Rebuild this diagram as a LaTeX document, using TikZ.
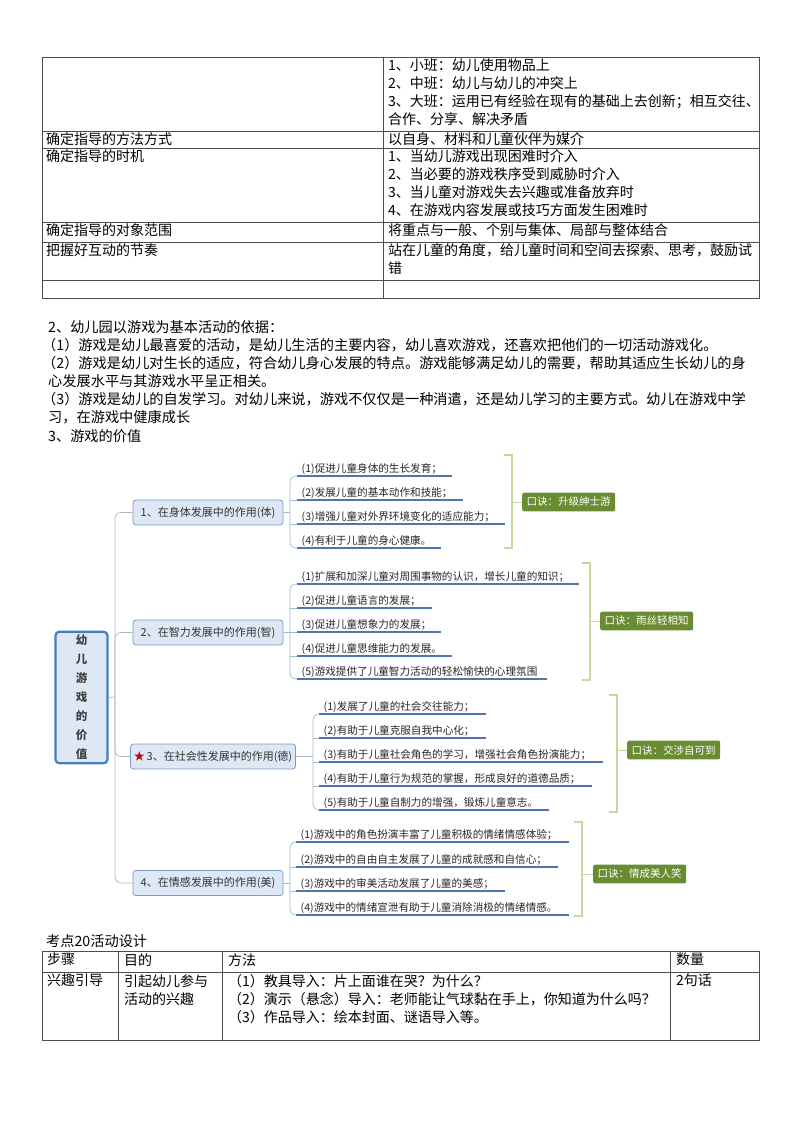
\documentclass[tikz,border=0pt]{standalone}
\usepackage{fontspec}
\setmainfont{Noto Sans CJK SC}
\newfontfamily\cjk{Noto Sans CJK SC}
\definecolor{ulc}{RGB}{79,118,170}
\definecolor{bfill}{RGB}{222,232,245}
\definecolor{bdraw}{RGB}{120,155,200}
\definecolor{rootc}{RGB}{70,125,190}
\definecolor{brkc}{RGB}{200,215,160}
\definecolor{mnc}{RGB}{105,140,50}
\definecolor{connc}{RGB}{170,185,200}
\begin{document}
\begin{tikzpicture}[x=1pt,y=-1pt,
  tline/.style={draw=black!70,line width=0.6pt},
  ttext/.style={anchor=north west,inner sep=0pt,font=\fontsize{14}{18}\selectfont,align=left},
  ptext/.style={anchor=west,inner sep=0pt,font=\fontsize{14.2}{16}\selectfont},
  branch/.style={draw=bdraw,fill=bfill,rounded corners=3pt,line width=0.8pt,minimum width=150pt,minimum height=25pt,font=\fontsize{11}{12}\selectfont,text=black!80},
  leaf/.style={anchor=south west,inner sep=1.5pt,font=\fontsize{10.6}{12}\selectfont,text=black!85},
  uline/.style={draw=ulc,line width=1.6pt},
  conn/.style={draw=connc,line width=0.7pt,rounded corners=6pt},
  brk/.style={draw=brkc,line width=2.2pt},
  mnem/.style={fill=mnc,text=white,rounded corners=2pt,font=\fontsize{10.5}{12}\selectfont\itshape,inner sep=4.5pt}]
\useasboundingbox (0,0) rectangle (800,1130);
% top table
\draw[tline] (42,57) rectangle (759,298);
\foreach \y in {131,148,222,242,280} \draw[tline] (42,\y) -- (759,\y);
\draw[tline] (383,57) -- (383,298);
\node[ttext] (t1) at (388,59) {1、小班：幼儿使用物品上\\2、中班：幼儿与幼儿的冲突上\\3、大班：运用已有经验在现有的基础上去创新；相互交往、\\合作、分享、解决矛盾};
\node[ttext] (t2a) at (46,132) {确定指导的方法方式};
\node[ttext] (t2b) at (388,132) {以自身、材料和儿童伙伴为媒介};
\node[ttext] (t3a) at (46,149) {确定指导的时机};
\node[ttext] (t3b) at (388,149) {1、当幼儿游戏出现困难时介入\\2、当必要的游戏秩序受到威胁时介入\\3、当儿童对游戏失去兴趣或准备放弃时\\4、在游戏内容发展或技巧方面发生困难时};
\node[ttext] (t4a) at (46,223) {确定指导的对象范围};
\node[ttext] (t4b) at (388,223) {将重点与一般、个别与集体、局部与整体结合};
\node[ttext] (t5a) at (46,243) {把握好互动的节奏};
\node[ttext] (t5b) at (388,243) {站在儿童的角度，给儿童时间和空间去探索、思考，鼓励试\\错};
% paragraphs
\node[ptext] (p1) at (48,327) {2、幼儿园以游戏为基本活动的依据：};
\node[ptext] (p2) at (42,345) {（1）游戏是幼儿最喜爱的活动，是幼儿生活的主要内容，幼儿喜欢游戏，还喜欢把他们的一切活动游戏化。};
\node[ptext] (p3) at (42,363) {（2）游戏是幼儿对生长的适应，符合幼儿身心发展的特点。游戏能够满足幼儿的需要，帮助其适应生长幼儿的身};
\node[ptext] (p4) at (48,381) {心发展水平与其游戏水平呈正相关。};
\node[ptext] (p5) at (42,399) {（3）游戏是幼儿的自发学习。对幼儿来说，游戏不仅仅是一种消遣，还是幼儿学习的主要方式。幼儿在游戏中学};
\node[ptext] (p6) at (48,417) {习，在游戏中健康成长};
\node[ptext] (p7) at (48,436) {3、游戏的价值};
% mind map
\node[draw=rootc,fill=bfill,line width=2.2pt,rounded corners=4pt,minimum width=52pt,minimum height=128pt,align=center,font=\fontsize{11.5}{19}\selectfont\bfseries,text=black!75] (root) at (81.5,697.5) {幼\\儿\\游\\戏\\的\\价\\值};
\node[branch] (b1) at (208,512.5) {1、在身体发展中的作用(体)};
\node[branch] (b2) at (208,632.5) {2、在智力发展中的作用(智)};
\node[branch,minimum width=160pt] (b3) at (213,756.5) {\textcolor{red!80!black}{\symbol{"2605}}\,3、在社会性发展中的作用(德)};
\node[branch] (b4) at (208,883) {4、在情感发展中的作用(美)};
\coordinate (rj) at (115,697);
\draw[conn] (root.east) -- (rj);
\draw[conn] (b1.west) -| (rj) |- (b4.west);
\draw[conn] (rj) |- (b2.west);
\draw[conn] (rj) |- (b3.west);
% leaves: branch 1
\foreach \t/\y/\e [count=\i] in {(1)促进儿童身体的生长发育；/476/452,(2)发展儿童的基本动作和技能；/500/463,(3)增强儿童对外界环境变化的适应能力；/524/505,(4)有利于儿童的身心健康。/548/441}{
  \node[leaf] (l1\i) at (300,\y) {\t};
  \draw[uline] (297,\y) -- (\e,\y);}
\draw[conn] (b1.east) -- (290,512.5);
\draw[conn] (297,476) -| (290,548) -- (297,548);
\draw[conn] (290,500) -- (297,500); \draw[conn] (290,524) -- (297,524);
\draw[brk] (504,455) -- (512,455) -- (512,548) -- (504,548);
\node[mnem,anchor=west] (m1) at (522,502) {口诀：升级绅士游};
\draw[brk,line width=1pt] (512,502) -- (m1.west);
% branch 2
\foreach \t/\y/\e [count=\i] in {(1)扩展和加深儿童对周围事物的认识，增长儿童的知识；/584/579,(2)促进儿童语言的发展；/608/432,(3)促进儿童想象力的发展；/632/441,(4)促进儿童思维能力的发展。/656/452,(5)游戏提供了儿童智力活动的轻松愉快的心理氛围/679/547}{
  \node[leaf] (l2\i) at (300,\y) {\t};
  \draw[uline] (297,\y) -- (\e,\y);}
\draw[conn] (b2.east) -- (290,632.5);
\draw[conn] (297,584) -| (290,679) -- (297,679);
\foreach \y in {608,632,656} \draw[conn] (290,\y) -- (297,\y);
\draw[brk] (582,563) -- (590,563) -- (590,680) -- (582,680);
\node[mnem,anchor=west] (m2) at (600,621) {口诀：雨丝轻相知};
\draw[brk,line width=1pt] (590,621) -- (m2.west);
% branch 3
\foreach \t/\y/\e [count=\i] in {(1)发展了儿童的社会交往能力；/714/486,(2)有助于儿童克服自我中心化；/738/486,(3)有助于儿童社会角色的学习，增强社会角色扮演能力；/762/603,(4)有助于儿童行为规范的掌握，形成良好的道德品质；/786/592,(5)有助于儿童自制力的增强，锻炼儿童意志。/810/549}{
  \node[leaf] (l3\i) at (322,\y) {\t};
  \draw[uline] (319,\y) -- (\e,\y);}
\draw[conn] (b3.east) -- (313,756.5);
\draw[conn] (319,714) -| (313,810) -- (319,810);
\foreach \y in {738,762,786} \draw[conn] (313,\y) -- (319,\y);
\draw[brk] (609,695) -- (617,695) -- (617,812) -- (609,812);
\node[mnem,anchor=west] (m3) at (627,750) {口诀：交涉自可到};
\draw[brk,line width=1pt] (617,750) -- (m3.west);
% branch 4
\foreach \t/\y/\e [count=\i] in {(1)游戏中的角色扮演丰富了儿童积极的情绪情感体验；/842/569,(2)游戏中的自由自主发展了儿童的成就感和自信心；/867/558,(3)游戏中的审美活动发展了儿童的美感；/891/505,(4)游戏中的情绪宣泄有助于儿童消除消极的情绪情感。/915/569}{
  \node[leaf] (l4\i) at (299,\y) {\t};
  \draw[uline] (296,\y) -- (\e,\y);}
\draw[conn] (b4.east) -- (290,883);
\draw[conn] (296,842) -| (290,915) -- (296,915);
\foreach \y in {867,891} \draw[conn] (290,\y) -- (296,\y);
\draw[brk] (574,822) -- (582,822) -- (582,916) -- (574,916);
\node[mnem,anchor=west] (m4) at (593,874) {口诀：情成美人笑};
\draw[brk,line width=1pt] (582,874) -- (m4.west);
% bottom table
\node[ptext] (h) at (46,941) {考点20活动设计};
\draw[tline] (42,951) rectangle (759,1040);
\draw[tline] (42,972) -- (759,972);
\foreach \x in {118,222,670} \draw[tline] (\x,951) -- (\x,1040);
\node[ttext] (c1) at (47,953) {步骤};
\node[ttext] (c2) at (124,953) {目的};
\node[ttext] (c3) at (228,953) {方法};
\node[ttext] (c4) at (676,953) {数量};
\node[ttext] (d1) at (47,974) {兴趣引导};
\node[ttext] (d2) at (124,974) {引起幼儿参与\\活动的兴趣};
\node[ttext] (d3) at (228,974) {（1）教具导入：片上面谁在哭？为什么？\\（2）演示（悬念）导入：老师能让气球黏在手上，你知道为什么吗？\\（3）作品导入：绘本封面、谜语导入等。};
\node[ttext] (d4) at (676,974) {2句话};
\end{tikzpicture}
\end{document}
